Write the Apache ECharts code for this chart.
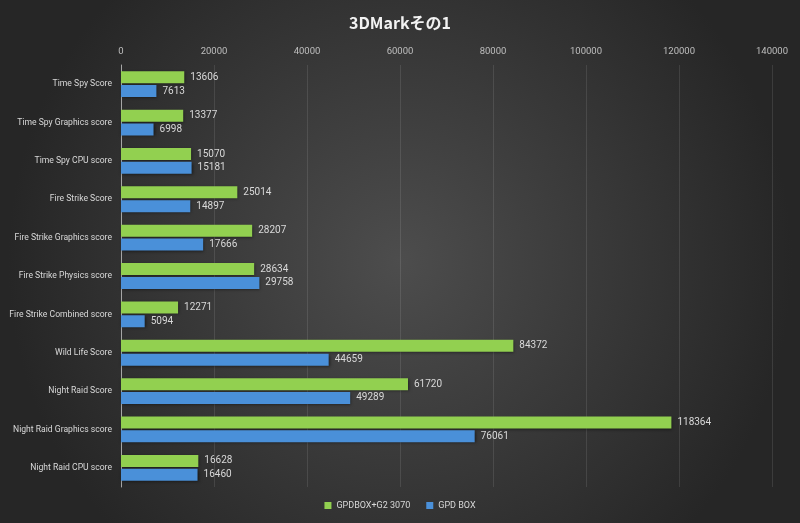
<!DOCTYPE html>
<html>
<head>
<meta charset="utf-8">
<script src="https://cdn.jsdelivr.net/npm/echarts@6/dist/echarts.min.js"></script>
<style>
  html, body { margin: 0; padding: 0; }
  #chart { width: 800px; height: 523px; }
</style>
</head>
<body>
<div id="chart"></div>
<script>
var categories = [
  'Time Spy Score', 'Time Spy Graphics score', 'Time Spy CPU score',
  'Fire Strike Score', 'Fire Strike Graphics score', 'Fire Strike Physics score',
  'Fire Strike Combined score', 'Wild Life Score', 'Night Raid Score',
  'Night Raid Graphics score', 'Night Raid CPU score'
];
var seriesNames = ['GPDBOX+G2 3070', 'GPD BOX'];
var g2Values = [13606, 13377, 15070, 25014, 28207, 28634, 12271, 84372, 61720, 118364, 16628];
var boxValues = [7613, 6998, 15181, 14897, 17666, 29758, 5094, 44659, 49289, 76061, 16460];

var chart = echarts.init(document.getElementById('chart'));

// 棒の共通スタイル
function barSeries(name, data, color) {
  return {
    name: name,
    type: 'bar',
    data: data,
    barWidth: 12,
    barGap: '15%',
    itemStyle: {
      color: color,
      shadowColor: 'rgba(0,0,0,0.5)',
      shadowBlur: 3,
      shadowOffsetX: 1,
      shadowOffsetY: 1
    },
    label: {
      show: true,
      position: 'right',
      distance: 6,
      color: '#d9d9d9',
      fontSize: 10,
      fontFamily: 'Roboto'
    }
  };
}

var option = {
  backgroundColor: {
    type: 'radial', x: 0.5, y: 0.5, r: 0.75,
    colorStops: [
      { offset: 0, color: '#4d4d4d' },
      { offset: 1, color: '#262626' }
    ]
  },
  title: {
    text: '3DMarkその1',
    left: 'center',
    top: 10,
    textStyle: { color: '#f2f2f2', fontSize: 16, fontWeight: 'bold', fontFamily: 'Noto Sans CJK JP' }
  },
  legend: {
    bottom: 8,
    itemWidth: 7,
    itemHeight: 7,
    itemGap: 16,
    icon: 'rect',
    textStyle: { color: '#d9d9d9', fontSize: 9, fontFamily: 'Roboto' },
    data: seriesNames
  },
  grid: { left: 121, right: 28, top: 65, bottom: 36, outerBoundsMode: 'none' },
  xAxis: {
    type: 'value',
    position: 'top',
    min: 0,
    max: 140000,
    interval: 20000,
    axisLine: { show: false },
    axisTick: { show: false },
    axisLabel: { color: '#bfbfbf', fontSize: 9.5, fontFamily: 'Roboto', formatter: function (v) { return String(v); } },
    splitLine: { lineStyle: { color: 'rgba(255,255,255,0.1)' } }
  },
  yAxis: {
    type: 'category',
    inverse: true,
    data: categories,
    axisLine: { lineStyle: { color: '#a6a6a6' } },
    axisTick: { show: false },
    axisLabel: { color: '#d9d9d9', fontSize: 8.6, margin: 9, fontFamily: 'Roboto' }
  },
  series: [
    barSeries(seriesNames[0], g2Values, '#92d050'),
    barSeries(seriesNames[1], boxValues, '#4a90d9')
  ]
};

chart.setOption(option);
</script>
</body>
</html>
